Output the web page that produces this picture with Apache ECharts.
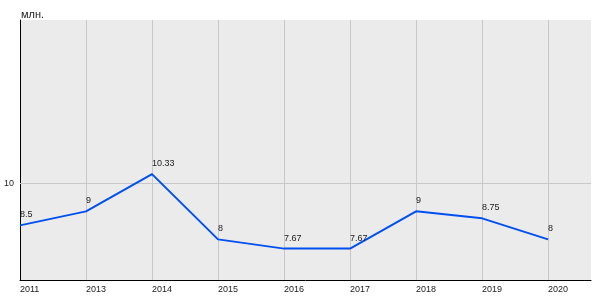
<!DOCTYPE html>
<html><head><meta charset="utf-8">
<script src="https://cdn.jsdelivr.net/npm/echarts@6/dist/echarts.min.js"></script>
<style>html,body{margin:0;padding:0;background:#fff}#c{width:600px;height:300px}</style>
</head><body><div id="c"></div>
<script>
const categories = ['2011','2013','2014','2015','2016','2017','2018','2019','2020'];
const values = [8.5, 9, 10.33, 8, 7.67, 7.67, 9, 8.75, 8];
const unitLabel = 'млн.';
const yTicks = [10];

const chart = echarts.init(document.getElementById('c'), null, {renderer:'canvas'});
const font = 'Arial, "Liberation Sans", sans-serif';
chart.setOption({
  animation: false,
  title: {text: unitLabel, left: 16, top: 4, textStyle: {fontSize: 11, fontWeight: 'normal', color: '#222', fontFamily: font}},
  grid: {left: 20, top: 20, right: 9, bottom: 20, show: true, backgroundColor: '#ebebeb', borderWidth: 0},
  xAxis: {
    type: 'value', min: 0, max: 8.65, interval: 1,
    axisLine: {show: true, lineStyle: {color: '#000', width: 1}},
    axisTick: {show: false},
    splitLine: {show: true, showMinLine: false, showMaxLine: false, lineStyle: {color: '#c8c8c8', width: 1}},
    axisLabel: {showMaxLabel: false, align: 'left', margin: 5, color: '#222', fontSize: 9, fontFamily: font,
      formatter: v => (Number.isInteger(v) && categories[v] !== undefined) ? categories[v] : ''}
  },
  yAxis: {
    type: 'value', min: 6.55, max: 15.83,
    axisLine: {show: true, lineStyle: {color: '#000', width: 1}},
    axisTick: {show: false},
    splitLine: {show: false},
    axisLabel: {show: false}
  },
  series: [{
    type: 'line',
    z: 3,
    data: values.map((v, i) => [i, v]),
    showSymbol: true, symbol: 'circle', symbolSize: 0,
    lineStyle: {color: '#0050f0', width: 2},
    itemStyle: {color: '#0050f0'},
    label: {show: true, position: 'top', align: 'left', distance: 6, color: '#222', fontSize: 9, fontFamily: font,
      formatter: p => String(p.value[1])},
    markLine: {
      silent: true, symbol: 'none', z: 1, animation: false,
      lineStyle: {color: '#c8c8c8', width: 1, type: 'solid'},
      label: {show: true, position: 'start', distance: 6, color: '#222', fontSize: 9, fontFamily: font,
        formatter: p => String(p.value)},
      emphasis: {disabled: true},
      data: yTicks.map(t => ({yAxis: t}))
    }
  }]
});
</script></body></html>
